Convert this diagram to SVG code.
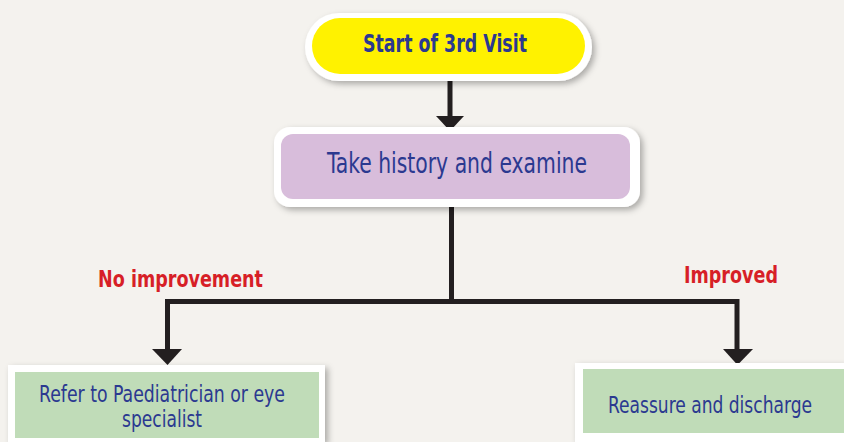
<svg xmlns="http://www.w3.org/2000/svg" width="844" height="442" viewBox="0 0 844 442">
<defs>
<filter id="sh" x="-10%" y="-20%" width="120%" height="150%">
<feDropShadow dx="3" dy="3" stdDeviation="3" flood-color="#000" flood-opacity="0.3"/>
</filter>
</defs>
<style>
.t{font-family:"DejaVu Sans Condensed","Liberation Sans",sans-serif;fill:#2b3990;text-anchor:middle}
.b{font-weight:bold}
.lbl{font-family:"DejaVu Sans Condensed","Liberation Sans",sans-serif;fill:#d71f27;font-weight:bold;text-anchor:middle;font-size:23px}
.ln{stroke:#231f20;stroke-width:5;fill:none}
.ah{fill:#231f20}
.w{fill:#fff;filter:url(#sh)}
.g{fill:#c0dcb8}
</style>
<rect width="844" height="442" fill="#f4f2ee"/>
<g id="connectors">
<line class="ln" x1="450" y1="81" x2="450" y2="118"/>
<polygon class="ah" points="436,116 464,116 450,131"/>
<line class="ln" x1="451.5" y1="207" x2="451.5" y2="301.5"/>
<polyline class="ln" points="167.5,350 167.5,301.5 737,301.5 737,350"/>
<polygon class="ah" points="152,349 182,349 167.5,365"/>
<polygon class="ah" points="723,349 753,349 737.5,365"/>
</g>
<g id="label-no">
<text class="lbl" x="180.5" y="287" textLength="165" lengthAdjust="spacingAndGlyphs">No improvement</text>
</g>
<g id="label-yes">
<text class="lbl" x="731" y="283" textLength="94" lengthAdjust="spacingAndGlyphs">Improved</text>
</g>
<g id="start">
<rect class="w" x="305" y="13" width="287" height="68" rx="34"/>
<rect x="312" y="18" width="273" height="56" rx="28" fill="#fff200"/>
<text class="t b" x="445" y="52" font-size="24" textLength="164" lengthAdjust="spacingAndGlyphs">Start of 3rd Visit</text>
</g>
<g id="history">
<rect class="w" x="274" y="127" width="366" height="80" rx="16"/>
<rect x="281" y="134" width="349" height="65" rx="12" fill="#d8bddb"/>
<text class="t" x="457" y="173" font-size="29" textLength="260" lengthAdjust="spacingAndGlyphs">Take history and examine</text>
</g>
<g id="refer">
<rect class="w" x="8" y="365" width="317" height="77"/>
<rect class="g" x="15" y="372" width="304" height="66"/>
<text class="t" x="162" y="402" font-size="23" textLength="246" lengthAdjust="spacingAndGlyphs">Refer to Paediatrician or eye</text>
<text class="t" x="162" y="427" font-size="23" textLength="80" lengthAdjust="spacingAndGlyphs">specialist</text>
</g>
<g id="reassure">
<rect class="w" x="575" y="363" width="269" height="79"/>
<rect class="g" x="583" y="369" width="261" height="64"/>
<text class="t" x="710" y="413" font-size="23" textLength="204" lengthAdjust="spacingAndGlyphs">Reassure and discharge</text>
</g>
</svg>
